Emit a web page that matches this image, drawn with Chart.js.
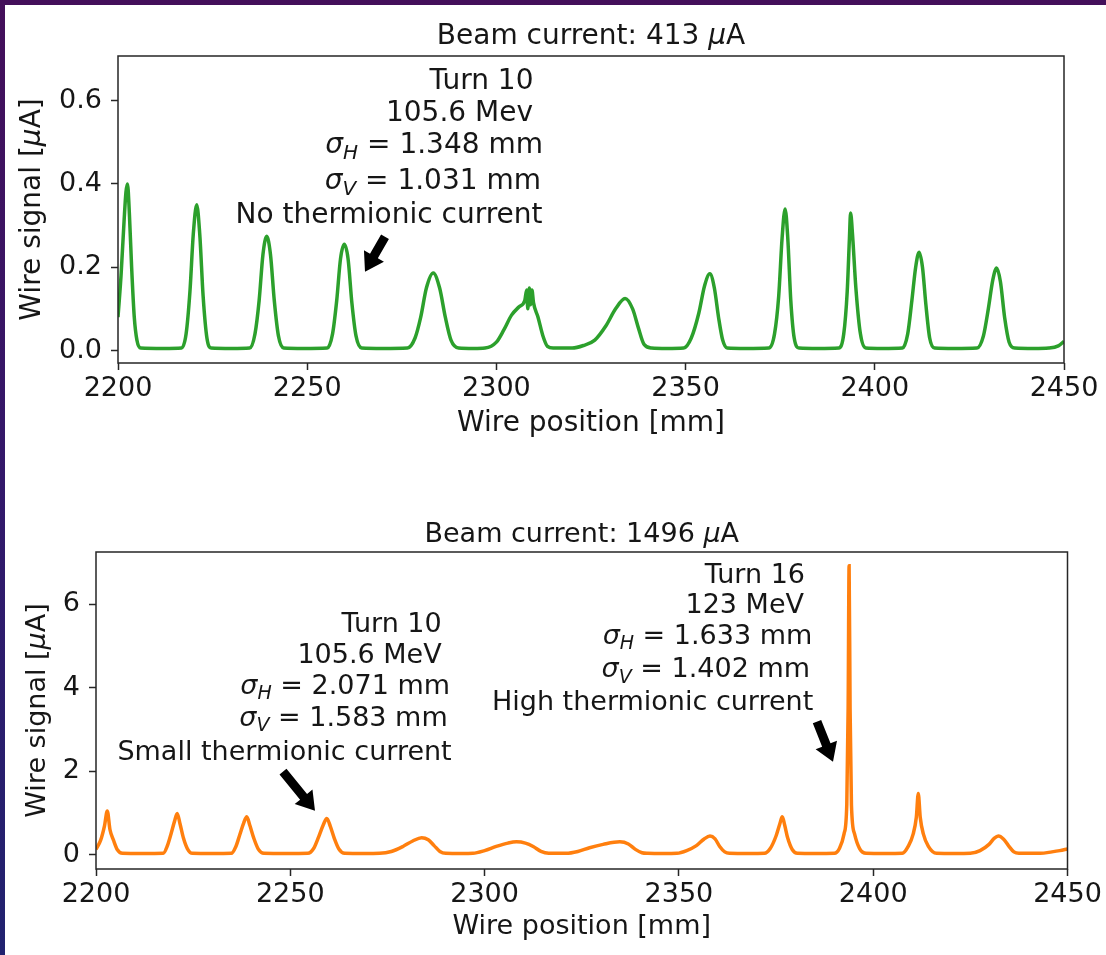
<!DOCTYPE html>
<html><head><meta charset="utf-8">
<script src="https://cdn.jsdelivr.net/npm/chart.js@4.4.0/dist/chart.umd.min.js"></script>
<style>
html,body{margin:0;padding:0;}
body{width:1106px;height:955px;overflow:hidden;position:relative;background:linear-gradient(180deg,#440f5a 0%,#33186a 50%,#21226f 100%);}
#panel{position:absolute;left:5px;top:5px;width:1101px;height:950px;background:#fff;}
.wrap{position:absolute;left:0;width:1106px;}
canvas{display:block;}
</style></head><body>
<div id="panel"></div>
<div class="wrap" style="top:0;height:470px"><canvas id="c1" width="1106" height="470"></canvas></div>
<div class="wrap" style="top:470px;height:485px"><canvas id="c2" width="1106" height="485"></canvas></div>
<script>
// ---------- data ----------
const xTicks = [2200, 2250, 2300, 2350, 2400, 2450];
const topYTicks = [0.0, 0.2, 0.4, 0.6];
const botYTicks = [0, 2, 4, 6];

const topX = [2200,2200.8,2201.6,2202.1,2202.5,2203.0,2203.6,2204.3,2205.0,2206.0,
  2212,
  2216.8,2218,2219,2219.9,2220.8,2221.6,2222.5,2223.5,2224.6,
  2230,
  2234.8,2236.2,2237.3,2238.3,2239.3,2240.3,2241.3,2242.4,2243.8,
  2249,
  2255.3,2256.7,2257.8,2258.8,2259.8,2260.8,2261.8,2262.9,2264.4,
  2270,
  2276.5,2278.5,2280,2281.5,2283.3,2285,2286.5,2288,2290,
  2294,
  2297,2300,2302,2304,2306,2307.5,2308,2308.3,2308.7,2309,2309.4,2309.8,2311,2312.3,2313.5,2315,
  2320,2323,2326,2329,2331.5,2334,2336,2337.5,2339,2341,
  2345,
  2349.5,2351.5,2353.5,2355,2356.4,2357.6,2358.7,2359.8,2361,
  2366,
  2372,2373.5,2374.6,2375.5,2376.3,2377,2377.8,2378.7,2380,
  2385,
  2390.5,2391.8,2392.7,2393.3,2393.6,2394.1,2395,2396.2,2397.6,
  2402,
  2407.3,2408.7,2409.8,2410.8,2411.7,2412.6,2413.5,2414.5,2415.8,
  2421,
  2427,2428.7,2430,2431.2,2432.2,2433.2,2434.3,2435.5,2437,
  2442,2446,2448.5,2450];
const topY = [0.08,0.18,0.31,0.38,0.40,0.33,0.2,0.08,0.025,0.006,
  0.005,
  0.006,0.04,0.14,0.28,0.35,0.28,0.13,0.03,0.006,
  0.005,
  0.006,0.04,0.12,0.23,0.274,0.23,0.12,0.035,0.006,
  0.005,
  0.006,0.04,0.12,0.22,0.255,0.22,0.115,0.035,0.006,
  0.005,
  0.006,0.03,0.08,0.15,0.186,0.15,0.08,0.025,0.006,
  0.005,
  0.006,0.02,0.05,0.085,0.105,0.12,0.145,0.1,0.15,0.11,0.145,0.115,0.08,0.035,0.01,0.006,
  0.006,0.012,0.025,0.06,0.1,0.125,0.1,0.055,0.015,0.006,
  0.005,
  0.006,0.03,0.09,0.155,0.184,0.15,0.08,0.025,0.006,
  0.005,
  0.006,0.04,0.13,0.27,0.34,0.27,0.12,0.03,0.006,
  0.005,
  0.006,0.04,0.14,0.27,0.33,0.28,0.15,0.04,0.006,
  0.005,
  0.006,0.04,0.12,0.2,0.236,0.2,0.11,0.03,0.006,
  0.005,
  0.006,0.035,0.1,0.17,0.198,0.165,0.08,0.02,0.006,
  0.005,0.006,0.011,0.022];

const botX = [2200,2201.2,2202.2,2202.9,2203.6,2204.5,2205.5,2206.8,
  2212,
  2217.3,2218.3,2219.3,2220.2,2220.9,2221.6,2222.5,2223.5,2224.8,
  2230,
  2234.8,2236,2237,2238,2238.8,2239.6,2240.6,2241.8,2243.2,
  2249,
  2254.5,2256,2257.3,2258.5,2259.4,2260.3,2261.3,2262.5,2264,
  2269,
  2273,2276,2279,2281.5,2283.8,2285.5,2287,2288.5,2290,
  2294,
  2297,2300,2303,2306,2308.2,2310.5,2312.5,2314.5,2316.5,
  2321,2324,2327,2330.5,2334.8,2337,2338.8,2340.5,2342,
  2346,
  2349.5,2352,2354.5,2356.5,2358,2359.3,2360.5,2361.8,2363,
  2368,
  2372,2373.5,2375,2376,2376.6,2377.2,2378,2379.2,2380.5,
  2385,
  2390,2391.3,2392.5,2393.2,2393.55,2393.8,2394.05,2394.4,2395.2,2396.5,2398.2,
  2403,
  2407.5,2409,2410.3,2411.1,2411.6,2412.1,2412.9,2414.2,2416.3,
  2421,
  2425,2427.5,2429.8,2431.2,2432.2,2433.5,2434.8,2436.2,2437.5,
  2443,2446,2448,2450];
const botY = [0.13,0.35,0.7,1.05,0.6,0.35,0.12,0.035,
  0.03,
  0.035,0.2,0.5,0.8,0.99,0.75,0.4,0.15,0.035,
  0.03,
  0.035,0.2,0.48,0.76,0.91,0.7,0.4,0.13,0.035,
  0.03,
  0.035,0.15,0.43,0.72,0.87,0.68,0.4,0.14,0.035,
  0.03,
  0.035,0.08,0.2,0.33,0.41,0.36,0.22,0.08,0.035,
  0.03,
  0.035,0.1,0.2,0.28,0.31,0.28,0.2,0.08,0.035,
  0.035,0.08,0.17,0.25,0.31,0.26,0.13,0.05,0.035,
  0.03,
  0.035,0.1,0.22,0.38,0.45,0.38,0.2,0.07,0.035,
  0.03,
  0.035,0.15,0.45,0.75,0.91,0.72,0.4,0.12,0.035,
  0.03,
  0.035,0.15,0.5,1.2,3.5,6.92,3.5,1.2,0.5,0.15,0.035,
  0.03,
  0.035,0.2,0.5,0.9,1.47,0.9,0.5,0.2,0.035,
  0.03,
  0.035,0.1,0.25,0.4,0.45,0.38,0.22,0.07,0.035,
  0.035,0.07,0.1,0.14];

const topTitle = [['Beam current: 413 ','n'],['\u03bc','i'],['A','n']];
const botTitle = [['Beam current: 1496 ','n'],['\u03bc','i'],['A','n']];
const xTitle = [['Wire position [mm]','n']];
const yTitle = [['Wire signal [','n'],['\u03bc','i'],['A]','n']];

const topNote = [
  [['Turn 10','n']],
  [['105.6 Mev','n']],
  [['\u03c3','i'],['H','s'],[' = 1.348 mm','n']],
  [['\u03c3','i'],['V','s'],[' = 1.031 mm','n']],
  [['No thermionic current','n']]
];
const botNoteA = [
  [['Turn 10','n']],
  [['105.6 MeV','n']],
  [['\u03c3','i'],['H','s'],[' = 2.071 mm','n']],
  [['\u03c3','i'],['V','s'],[' = 1.583 mm','n']],
  [['Small thermionic current','n']]
];
const botNoteB = [
  [['Turn 16','n']],
  [['123 MeV','n']],
  [['\u03c3','i'],['H','s'],[' = 1.633 mm','n']],
  [['\u03c3','i'],['V','s'],[' = 1.402 mm','n']],
  [['High thermionic current','n']]
];

// ---------- drawing helpers ----------
const TFS = 27;     // tick labels
const FAM = '"DejaVu Sans", sans-serif';
const INK = '#161616';
function fontFor(st, size) {
  if (st === 'i') return `italic ${size}px ${FAM}`;
  if (st === 's') return `italic ${Math.round(size*0.7)}px ${FAM}`;
  return `${size}px ${FAM}`;
}
function richWidth(ctx, segs, size) {
  let w = 0;
  for (const [t, st] of segs) { ctx.font = fontFor(st, size); w += ctx.measureText(t).width; }
  return w;
}
function drawRich(ctx, segs, x, y, align, size) {
  const w = richWidth(ctx, segs, size);
  let cx = align === 'right' ? x - w : align === 'center' ? x - w/2 : x;
  ctx.textAlign = 'left'; ctx.textBaseline = 'alphabetic'; ctx.fillStyle = INK;
  for (const [t, st] of segs) {
    ctx.font = fontFor(st, size);
    ctx.fillText(t, cx, st === 's' ? y + size*0.2 : y);
    cx += ctx.measureText(t).width;
  }
}
function drawArrow(ctx, tx, ty, px, py) {
  const dx = px - tx, dy = py - ty, L = Math.hypot(dx, dy);
  const ux = dx/L, uy = dy/L, nx = -uy, ny = ux;
  const sw = 4.5, hw = 11.5, hl = 18;
  const bx = px - ux*hl, by = py - uy*hl;
  ctx.beginPath();
  ctx.moveTo(tx + nx*sw, ty + ny*sw);
  ctx.lineTo(bx + nx*sw, by + ny*sw);
  ctx.lineTo(bx + nx*hw, by + ny*hw);
  ctx.lineTo(px, py);
  ctx.lineTo(bx - nx*hw, by - ny*hw);
  ctx.lineTo(bx - nx*sw, by - ny*sw);
  ctx.lineTo(tx - nx*sw, ty - ny*sw);
  ctx.closePath();
  ctx.fillStyle = '#000';
  ctx.fill();
}

function makeChart(id, cfg) {
  const canvas = document.getElementById(id);
  const H = canvas.height;
  const FS = cfg.fs;
  const decor = {
    id: 'decor',
    afterDraw(chart) {
      const ctx = chart.ctx, a = chart.chartArea, oy = cfg.offsetY;
      ctx.save();
      ctx.strokeStyle = '#262626'; ctx.lineWidth = 1.5;
      ctx.strokeRect(a.left, a.top, a.right - a.left, a.bottom - a.top);
      const cxm = (a.left + a.right) / 2;
      drawRich(ctx, cfg.title, cxm, cfg.titleBase - oy, 'center', FS);
      drawRich(ctx, xTitle, cxm, cfg.xTitleBase - oy, 'center', FS);
      ctx.save();
      ctx.translate(cfg.yTitleX, (a.top + a.bottom) / 2);
      ctx.rotate(-Math.PI/2);
      drawRich(ctx, yTitle, 0, 0, 'center', FS);
      ctx.restore();
      for (const n of cfg.notes) {
        n.lines.forEach((ln, i) => drawRich(ctx, ln, n.right[i], n.base[i] - oy, 'right', FS));
      }
      for (const ar of cfg.arrows) drawArrow(ctx, ar[0], ar[1] - oy, ar[2], ar[3] - oy);
      ctx.restore();
    }
  };
  const tickFont = { family: FAM, size: TFS };
  return new Chart(canvas, {
    type: 'line',
    data: { datasets: [{
      data: cfg.xs.map((x, i) => ({ x: x, y: cfg.ys[i] })),
      borderColor: cfg.color, borderWidth: 3.5, pointRadius: 0,
      cubicInterpolationMode: 'monotone', fill: false
    }]},
    options: {
      responsive: false, animation: false, devicePixelRatio: 1,
      layout: { padding: { top: cfg.padTop, right: cfg.padRight, left: 0, bottom: 0 } },
      plugins: { legend: { display: false }, tooltip: { enabled: false }, title: { display: false } },
      scales: {
        x: {
          type: 'linear', min: 2200, max: 2450,
          afterBuildTicks: s => { s.ticks = xTicks.map(v => ({ value: v })); },
          afterFit: s => { s.height = H - cfg.bottom; },
          ticks: { font: tickFont, color: INK, padding: 2.5, maxRotation: 0, autoSkip: false, callback: v => String(v) },
          grid: { drawOnChartArea: false, drawTicks: true, tickLength: 7, tickColor: '#262626', tickWidth: 1.5 },
          border: { display: false }
        },
        y: {
          type: 'linear', min: cfg.ymin, max: cfg.ymax,
          afterBuildTicks: s => { s.ticks = cfg.yTicks.map(v => ({ value: v })); },
          afterFit: s => { s.width = cfg.left; },
          ticks: { font: tickFont, color: INK, padding: 9, autoSkip: false, callback: cfg.yFmt },
          grid: { drawOnChartArea: false, drawTicks: true, tickLength: 7, tickColor: '#262626', tickWidth: 1.5 },
          border: { display: false }
        }
      }
    },
    plugins: [decor]
  });
}

makeChart('c1', {
  offsetY: 0, xs: topX, ys: topY, color: '#2ca02c', fs: 28,
  ymin: -0.03, ymax: 0.707, yTicks: topYTicks, yFmt: v => v.toFixed(1),
  left: 118, padTop: 56, padRight: 42, bottom: 363,
  title: topTitle, titleBase: 44, xTitleBase: 431, yTitleX: 40,
  notes: [{ lines: topNote, right: [533.5, 533, 543, 541, 542.5], base: [89.3, 120.7, 153.3, 189.3, 222.7] }],
  arrows: [[385, 236.7, 365, 271.7]]
});
makeChart('c2', {
  offsetY: 470, xs: botX, ys: botY, color: '#ff7f0e', fs: 27,
  ymin: -0.34, ymax: 7.25, yTicks: botYTicks, yFmt: v => String(v),
  left: 96, padTop: 82, padRight: 38.5, bottom: 399,
  title: botTitle, titleBase: 542, xTitleBase: 934, yTitleX: 45,
  notes: [
    { lines: botNoteA, right: [441.7, 441.7, 450, 447.7, 451.7], base: [631.7, 662.7, 694, 726, 760] },
    { lines: botNoteB, right: [805, 804, 812.3, 810, 813.3], base: [582.7, 612.7, 643.5, 677.3, 710] }
  ],
  arrows: [[283, 771.7, 315, 810.7], [817, 721.7, 833, 761.7]]
});
</script>
</body></html>
